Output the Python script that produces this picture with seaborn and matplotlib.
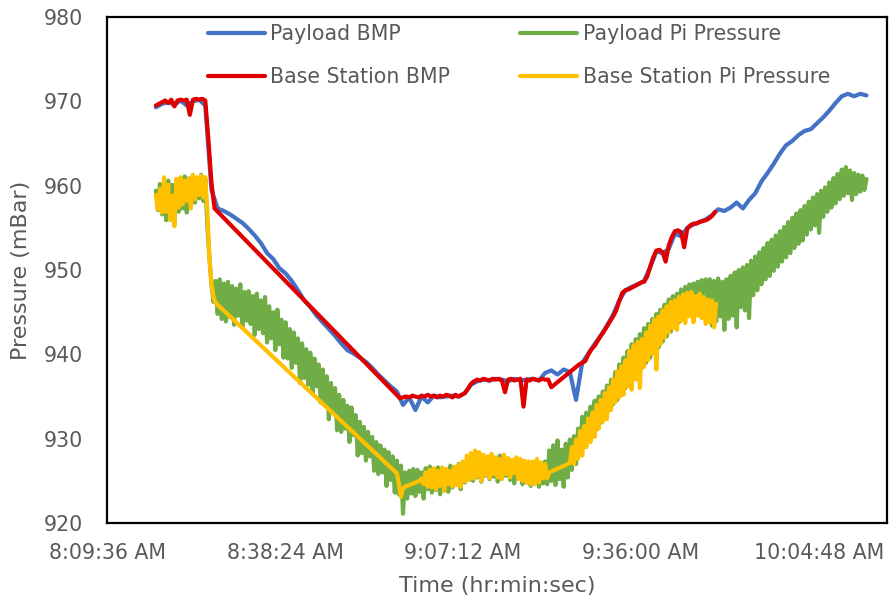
import numpy as np
import pandas as pd
import matplotlib
matplotlib.use("Agg")
import matplotlib.pyplot as plt
import matplotlib.dates as mdates
from matplotlib.ticker import FuncFormatter, FixedLocator
import seaborn as sns

# ---------------- data ----------------
DAY = "2019-01-01"

# Payload BMP : one sample per minute from 08:17:30
payload_bmp_start = "08:17:30"
payload_bmp_step_s = 60
payload_bmp = [
    969.3, 969.7, 969.9, 969.6, 970.1, 969.5, 970.0, 970.2, 969.5,
    959.5, 957.3, 957.0, 956.6, 956.1, 955.6, 954.9, 954.1, 953.2, 952.0,
    951.3, 950.2, 949.6, 948.7, 947.6, 946.4, 945.6, 944.6, 943.8, 943.0,
    942.2, 941.3, 940.5, 940.1, 939.6, 939.1, 938.4, 937.6, 936.9, 936.2,
    935.6, 934.0, 934.9, 933.4, 935.0, 934.3, 935.1, 934.9, 935.0, 935.1,
    935.0, 935.4, 936.4, 936.8, 937.0, 936.9, 937.1, 937.0, 936.8, 937.1,
    936.9, 937.0, 937.1, 936.9, 937.8, 938.1, 937.6, 938.2, 937.9, 934.6,
    939.0, 940.1, 941.2, 942.2, 943.4, 944.7, 946.4, 947.6, 948.0, 948.3,
    948.7, 950.3, 952.2, 952.0, 952.5, 954.3, 954.0, 955.0, 955.4, 955.7,
    956.0, 956.5, 957.2, 957.0, 957.4, 958.0, 957.3, 958.3, 959.1, 960.5,
    961.5, 962.6, 963.8, 964.8, 965.3, 966.0, 966.5, 966.7, 967.4, 968.1,
    968.9, 969.8, 970.6, 970.9, 970.6, 970.9, 970.7,
]

# Payload Pi Pressure : one sample every 20 s from 08:17:30 (each row = 3 minutes)
payload_pi_start = "08:17:30"
payload_pi_step_s = 20
payload_pi = [
    959.4, 957.1, 960.2, 956.6, 959.8, 955.9, 960.6, 956.4, 960.1,
    955.7, 960.4, 956.9, 960.9, 957.3, 961.1, 956.8, 960.5, 957.6,
    961.2, 958.0, 960.8, 958.5, 961.3, 958.2, 960.7, 955.3, 951.5,
    948.3, 946.2, 948.7, 944.8, 948.9, 944.2, 948.4, 943.9, 948.6,
    944.4, 948.1, 943.5, 947.8, 944.6, 948.3, 943.2, 947.4, 944.0,
    947.5, 943.6, 946.9, 942.3, 947.2, 943.0, 946.4, 942.5, 946.8,
    941.4, 945.7, 941.9, 945.0, 940.5, 945.3, 941.2, 944.1, 939.6,
    943.8, 939.5, 943.0, 938.4, 942.6, 939.0, 941.9, 936.6, 941.3,
    937.2, 940.6, 936.4, 940.2, 935.4, 939.5, 936.2, 938.8, 934.3,
    938.2, 934.0, 937.4, 932.3, 936.6, 933.2, 936.0, 931.0, 935.2,
    930.8, 934.6, 931.2, 933.9, 929.6, 933.7, 930.4, 932.8, 928.0,
    932.0, 928.3, 931.4, 927.4, 930.8, 927.9, 930.2, 926.2, 929.6,
    925.8, 929.2, 926.0, 928.7, 924.4, 928.4, 925.1, 927.9, 923.6,
    927.4, 923.4, 926.8, 921.1, 926.0, 922.9, 926.2, 923.5, 926.4,
    923.2, 926.3, 923.7, 926.0, 922.9, 926.5, 924.0, 926.7, 923.6,
    926.2, 923.9, 926.6, 923.4, 926.1, 924.3, 926.4, 923.7, 926.8,
    924.2, 926.5, 924.6, 927.0, 924.0, 926.8, 924.8, 927.5, 925.1,
    927.9, 925.0, 928.1, 925.4, 927.6, 924.9, 928.0, 925.6, 927.5,
    925.2, 927.8, 925.5, 927.4, 924.9, 928.0, 925.3, 927.3, 925.6,
    927.5, 925.1, 927.2, 924.7, 927.4, 925.3, 926.9, 924.6, 927.1,
    924.8, 926.9, 924.4, 926.7, 925.0, 927.0, 924.3, 926.6, 924.7,
    927.3, 924.6, 928.6, 925.0, 929.2, 924.5, 929.8, 925.2, 928.7,
    924.3, 929.4, 925.4, 929.9, 926.3, 930.3, 927.0, 931.2, 928.3,
    932.6, 929.2, 933.1, 930.0, 933.8, 930.6, 934.5, 931.1, 935.0,
    931.9, 935.6, 932.6, 936.3, 933.4, 937.0, 934.1, 937.9, 934.6,
    938.8, 935.2, 939.6, 936.0, 940.4, 936.4, 941.2, 937.3, 941.8,
    937.9, 942.4, 938.4, 943.1, 939.0, 943.6, 939.6, 944.2, 940.2,
    944.8, 940.8, 945.3, 941.5, 945.9, 942.1, 946.5, 942.7, 946.9,
    943.3, 947.2, 943.8, 947.7, 944.3, 948.0, 944.6, 948.3, 944.9,
    948.4, 945.0, 948.6, 944.8, 948.8, 945.3, 948.9, 945.4, 948.9,
    943.4, 948.7, 943.9, 949.0, 944.5, 948.6, 942.9, 948.9, 944.2,
    949.3, 944.6, 949.7, 943.2, 950.0, 945.6, 950.3, 945.2, 950.6,
    944.3, 951.1, 947.0, 951.6, 947.6, 952.1, 948.3, 952.6, 948.9,
    953.2, 949.3, 953.6, 949.9, 954.1, 950.4, 954.6, 951.0, 955.1,
    951.5, 955.7, 952.0, 956.2, 952.6, 956.7, 953.1, 957.1, 953.5,
    957.6, 954.2, 958.1, 954.8, 958.6, 955.3, 959.0, 954.4, 959.4,
    956.3, 959.8, 956.9, 960.4, 957.4, 960.9, 957.9, 961.4, 958.4,
    961.9, 958.8, 962.2, 959.1, 961.8, 958.3, 961.5, 959.0, 961.3,
    959.3, 961.2, 959.5, 960.8,
]

# Base Station BMP : three logged stretches (30 s samples), gaps bridged by the line
base_bmp_step_s = 30
base_bmp_seg1_start = "08:17:30"
base_bmp_seg1 = [
    969.5, 969.7, 969.9, 970.1, 969.8, 970.2, 969.4, 970.1, 970.2, 970.1,
    970.2, 968.4, 970.2, 970.3, 970.2, 970.3, 970.1, 965.5, 960.3, 957.3,
]
base_bmp_seg2_start = "08:57:00"
base_bmp_seg2 = [
    934.8, 934.9, 935.0, 934.9, 935.1, 935.0, 934.9, 935.1, 935.0, 935.2,
    935.0, 935.1, 934.9, 935.1, 935.0, 935.2, 935.1, 934.9, 935.2, 935.0,
    935.2, 935.4, 935.9, 936.5, 936.8, 937.0, 936.9, 937.1, 937.0, 936.9,
    937.1, 937.0, 937.1, 936.9, 935.5, 937.0, 937.1, 936.9, 937.0, 937.1,
    933.8, 937.0, 936.9, 937.1, 937.0, 936.9, 937.1, 937.0, 937.0, 936.1,
]
base_bmp_seg3_start = "09:26:00"
base_bmp_seg3 = [
    938.8, 939.0, 939.2, 940.0, 940.6, 941.0, 941.6, 942.2, 942.7, 943.3,
    943.9, 944.5, 945.2, 946.3, 947.3, 947.6, 947.7, 947.9, 948.1, 948.3,
    948.5, 948.6, 949.2, 950.4, 951.5, 952.3, 952.4, 952.1, 951.0, 952.9,
    953.9, 954.6, 954.7, 954.5, 952.7, 954.9, 955.3, 955.5, 955.5, 955.7,
    955.8, 955.9, 956.1, 956.4, 956.9,
]

# Base Station Pi Pressure : three logged stretches (20 s samples)
base_pi_step_s = 20
base_pi_seg1_start = "08:17:30"
base_pi_seg1 = [
    958.9, 957.2, 959.6, 956.8, 961.0, 956.9, 960.1, 955.9, 958.8,
    955.2, 960.8, 957.4, 961.0, 957.8, 960.6, 958.2, 960.9, 957.3,
    961.3, 958.4, 961.0, 958.9, 961.2, 958.6, 961.0, 957.0, 951.4,
    948.4, 946.8, 946.1,
]
base_pi_seg2_start = "08:56:30"
base_pi_seg2 = [
    925.9, 924.6, 923.1,
    924.1, 924.3, 924.4, 924.5, 924.6, 924.7, 924.8, 924.9, 925.0,
    925.3, 924.6, 926.0, 924.3, 926.3, 924.2, 926.5, 924.0, 926.2,
    924.4, 926.6, 923.8, 926.4, 924.6, 926.2, 924.3, 926.7, 924.5,
    926.9, 924.3, 927.3, 924.9, 928.0, 925.1, 928.3, 925.3, 928.6,
    925.5, 928.4, 925.0, 928.1, 925.7, 927.9, 925.3, 928.2, 925.8,
    927.8, 925.4, 927.6, 925.2, 928.1, 925.8, 927.7, 925.4, 927.5,
    925.9, 927.8, 925.2, 927.6, 925.0, 927.4, 924.8, 927.3, 924.6,
    927.3, 924.6, 927.6, 924.8, 927.2, 925.3, 927.0, 925.3, 926.0,
]
base_pi_seg3_start = "09:24:30"
base_pi_seg3 = [
    927.1, 929.0, 927.0, 929.9, 927.6, 930.9, 928.0, 931.5, 929.0,
    932.4, 929.6, 933.1, 930.2, 934.0, 931.2, 934.6, 932.0, 935.4,
    932.3, 936.1, 933.4, 937.0, 934.3, 938.0, 934.9, 938.6, 935.2,
    939.3, 936.2, 940.4, 935.8, 941.1, 937.0, 941.5, 936.0, 941.8,
    938.5, 942.6, 939.3, 943.4, 940.1, 944.1, 938.2, 944.5, 941.2,
    945.2, 942.0, 945.7, 942.6, 946.2, 943.1, 946.4, 942.9, 946.8,
    944.0, 947.1, 943.7, 947.3, 944.5, 947.4, 943.8, 946.9, 944.6,
    947.2, 944.3, 946.8, 943.6, 946.5, 943.8, 946.4, 943.2, 946.0,
]

series_names = ["Payload BMP", "Payload Pi Pressure", "Base Station BMP", "Base Station Pi Pressure"]
series_colors = ["#4472C4", "#70AD47", "#E00000", "#FFC000"]

x_start = "08:09:36"
x_end = "10:15:50"
x_tick_step_s = 28 * 60 + 48
y_ticks = [920, 930, 940, 950, 960, 970, 980]


# ---------------- helpers ----------------
def frame(start, step_s, values):
    t0 = pd.Timestamp(f"{DAY} {start}")
    times = t0 + pd.to_timedelta(np.arange(len(values)) * step_s, unit="s")
    return pd.DataFrame({"time": times, "pressure": values})


frames = {
    "Payload BMP": frame(payload_bmp_start, payload_bmp_step_s, payload_bmp),
    "Payload Pi Pressure": frame(payload_pi_start, payload_pi_step_s, payload_pi),
    "Base Station BMP": pd.concat([
        frame(base_bmp_seg1_start, base_bmp_step_s, base_bmp_seg1),
        frame(base_bmp_seg2_start, base_bmp_step_s, base_bmp_seg2),
        frame(base_bmp_seg3_start, base_bmp_step_s, base_bmp_seg3),
    ], ignore_index=True),
    "Base Station Pi Pressure": pd.concat([
        frame(base_pi_seg1_start, base_pi_step_s, base_pi_seg1),
        frame(base_pi_seg2_start, base_pi_step_s, base_pi_seg2),
        frame(base_pi_seg3_start, base_pi_step_s, base_pi_seg3),
    ], ignore_index=True),
}

# ---------------- plot ----------------
sns.set_style("white")
plt.rcParams["font.family"] = ["DejaVu Sans"]

GRAY = "#595959"
fig, ax = plt.subplots(figsize=(8.89, 6.12), dpi=100)
fig.subplots_adjust(left=0.1204, right=0.9978, top=0.9722, bottom=0.1454)

for name, color in zip(series_names, series_colors):
    sns.lineplot(data=frames[name], x="time", y="pressure", ax=ax, color=color,
                 linewidth=3.0, label=name, estimator=None, sort=False)

t_lo = pd.Timestamp(f"{DAY} {x_start}")
t_hi = pd.Timestamp(f"{DAY} {x_end}")
ax.set_xlim(mdates.date2num(t_lo), mdates.date2num(t_hi))
ticks = [mdates.date2num(t_lo + pd.Timedelta(seconds=k * x_tick_step_s)) for k in range(5)]
ax.xaxis.set_major_locator(FixedLocator(ticks))


def fmt_time(x, pos):
    d = mdates.num2date(x)
    return d.strftime("%I:%M:%S %p").lstrip("0")


ax.xaxis.set_major_formatter(FuncFormatter(fmt_time))
ax.set_ylim(920, 980)
ax.set_yticks(y_ticks)

ax.tick_params(axis="both", length=0, labelsize=14.8, labelcolor=GRAY)
ax.tick_params(axis="x", pad=14.4)
ax.tick_params(axis="y", pad=17.3)
ax.set_xlabel("Time (hr:min:sec)", fontsize=16, color=GRAY, labelpad=9)
ax.set_ylabel("Pressure (mBar)", fontsize=16, color=GRAY, labelpad=9.5)

for sp in ax.spines.values():
    sp.set_visible(True)
    sp.set_color("black")
    sp.set_linewidth(1.6)

handles, labels = ax.get_legend_handles_labels()
lookup = dict(zip(labels, handles))
order = ["Payload BMP", "Base Station BMP", "Payload Pi Pressure", "Base Station Pi Pressure"]
ax.legend([lookup[n] for n in order], order, ncol=2, loc="upper left",
          bbox_to_anchor=(0.1295, 0.986), frameon=False, fontsize=14.8,
          handlelength=2.78, handletextpad=0.25, columnspacing=3.4,
          labelspacing=1.13, borderpad=0, borderaxespad=0, labelcolor=GRAY)

fig.savefig("out.png", dpi=100)
